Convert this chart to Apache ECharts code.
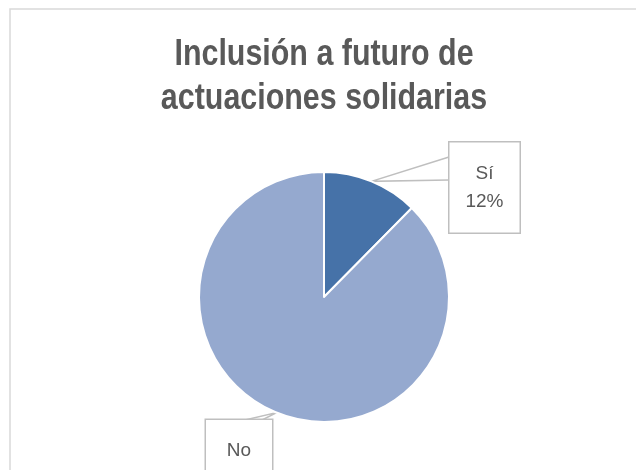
<!DOCTYPE html>
<html>
<head>
<meta charset="utf-8">
<script src="https://cdn.jsdelivr.net/npm/echarts@6/dist/echarts.min.js"></script>
<style>
  html, body { margin: 0; padding: 0; background: #fff; }
  #chart { width: 636px; height: 470px; }
</style>
</head>
<body>
<div id="chart"></div>
<script>
var titleLines = ['Inclusión a futuro de', 'actuaciones solidarias'];
var categories = ['Sí', 'No'];
var values = [12.4, 87.6];
var sliceColors = ['#4672a8', '#95a9cf'];

var FONT = '"Liberation Sans Narrow", "Arial Narrow", "Liberation Sans", Arial, sans-serif';

var chart = echarts.init(document.getElementById('chart'));

var labelBoxes = [
  { x: 484.5, y: 187.5, w: 38, gapA: [449, 157], gapB: [449, 180] },
  { x: 239, y: 451, w: 34, gapA: [245, 420], gapB: [262, 420] }
];

chart.setOption({
  animation: false,
  backgroundColor: '#ffffff',
  graphic: [{
    type: 'rect',
    shape: { x: 10, y: 9, width: 640, height: 480 },
    style: { fill: 'none', stroke: '#d9d9d9', lineWidth: 1.5 },
    silent: true,
    z: 0
  }, {
    type: 'text',
    x: 324,
    y: 33,
    scaleX: 0.845,
    silent: true,
    z: 10,
    style: {
      text: titleLines.join('\n'),
      fontFamily: FONT,
      fontWeight: 'bold',
      fontSize: 36,
      lineHeight: 44,
      fill: '#595959',
      textAlign: 'center',
      textVerticalAlign: 'top'
    }
  }],
  series: [{
    type: 'pie',
    center: [324, 297],
    radius: 125,
    startAngle: 90,
    clockwise: true,
    data: categories.map(function (c, i) {
      return {
        name: c,
        value: values[i],
        itemStyle: { color: sliceColors[i] },
        label: { width: labelBoxes[i].w }
      };
    }),
    itemStyle: { borderColor: '#ffffff', borderWidth: 2 },
    label: {
      show: true,
      position: 'outside',
      formatter: function (p) {
        return p.name + (p.dataIndex === 0 ? '\n' + Math.round(p.percent) + '%' : '');
      },
      fontFamily: FONT,
      fontSize: 19,
      lineHeight: 28,
      color: '#595959',
      backgroundColor: '#ffffff',
      borderColor: '#bfbfbf',
      borderWidth: 1.5,
      padding: [17, 16],
      overflow: 'none',
      align: 'center'
    },
    labelLine: {
      show: true,
      lineStyle: { color: '#bfbfbf', width: 1.5 }
    },
    labelLayout: function (params) {
      var b = labelBoxes[params.dataIndex];
      var tip = params.labelLinePoints ? params.labelLinePoints[0] : null;
      var res = { x: b.x, y: b.y, align: 'center', verticalAlign: 'middle' };
      if (tip) {
        res.labelLinePoints = [b.gapA, [tip[0], tip[1]], b.gapB];
      }
      return res;
    }
  }]
});
</script>
</body>
</html>
